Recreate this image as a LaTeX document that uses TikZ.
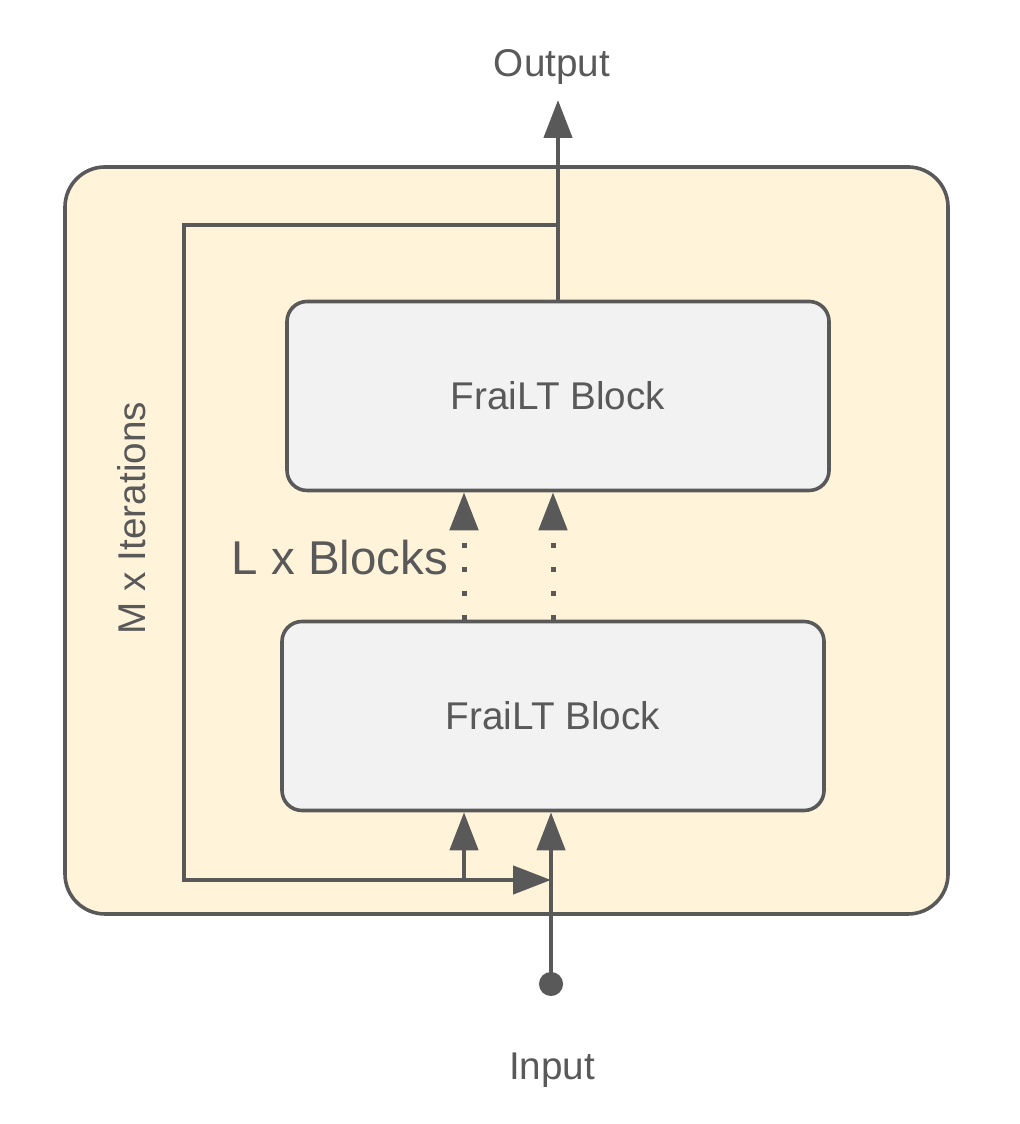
\documentclass[tikz,border=0pt]{standalone}
\usepackage{fontspec}
\setmainfont{Liberation Sans}
\usepackage{xcolor}
\usetikzlibrary{arrows.meta, positioning}

\definecolor{inkgray}{HTML}{595959}
\definecolor{creamfill}{HTML}{FFF4DA}
\definecolor{blockfill}{HTML}{F2F2F2}

\tikzset{
  loopbox/.style={draw=inkgray, line width=0.036cm, fill=creamfill, rounded corners=0.4cm,
    minimum width=8.83cm, minimum height=7.47cm, inner sep=0pt},
  blockbox/.style={draw=inkgray, line width=0.036cm, fill=blockfill, rounded corners=0.2cm,
    minimum width=5.42cm, minimum height=1.89cm, inner sep=0pt, text=inkgray,
    font=\fontsize{11}{13}\selectfont},
  tag/.style={text=inkgray, inner sep=0pt, font=\fontsize{11}{13}\selectfont},
  wire/.style={draw=inkgray, line width=0.045cm, -{Triangle[length=0.38cm,width=0.28cm]}},
  dotwire/.style={wire, line width=0.05cm, dash pattern=on 0.05cm off 0.19cm},
}

\begin{document}
\begin{tikzpicture}
    \useasboundingbox (0,0) rectangle (10.2,11.24);

    % Iteration frame
    \node[loopbox] (frame) at (5.065,5.835) {};

    % Blocks
    \node[blockbox] (upper) at (5.58,7.28) {FraiLT Block};
    \node[blockbox] (lower) at (5.53,4.08) {FraiLT Block};

    % Labels
    \node[tag] (output) at (5.52,10.57) {Output};
    \node[tag] (input) at (5.52,0.54) {Input};
    \node[tag, font=\fontsize{13.5}{16}\selectfont] (lblocks) at (3.40,5.66) {L x Blocks};
    \node[tag, rotate=90] (miter) at (1.32,6.06) {M x Iterations};

    % Points of the loop
    \coordinate (outtip) at (5.58,10.24);
    \coordinate (tap) at (5.58,8.99);
    \coordinate (topleft) at (1.84,8.99);
    \coordinate (botleft) at (1.84,2.44);
    \coordinate (join) at (5.51,2.44);
    \coordinate (branch) at (4.64,2.44);
    \coordinate (indot) at (5.51,1.28);

    % Connections
    \draw[wire] (upper.north) -- (outtip);
    \draw[wire, line join=miter] (tap) -- (topleft) -- (botleft) -- (join);
    \draw[wire] (branch) -- (branch |- lower.south);
    \draw[wire, {Circle[length=0.24cm]}-{Triangle[length=0.38cm,width=0.28cm]}] (indot) -- (indot |- lower.south);
    \draw[dotwire] (lower.north -| branch) -- (upper.south -| branch);
    \draw[dotwire] (lower.north) -- (lower.north |- upper.south);
\end{tikzpicture}
\end{document}
